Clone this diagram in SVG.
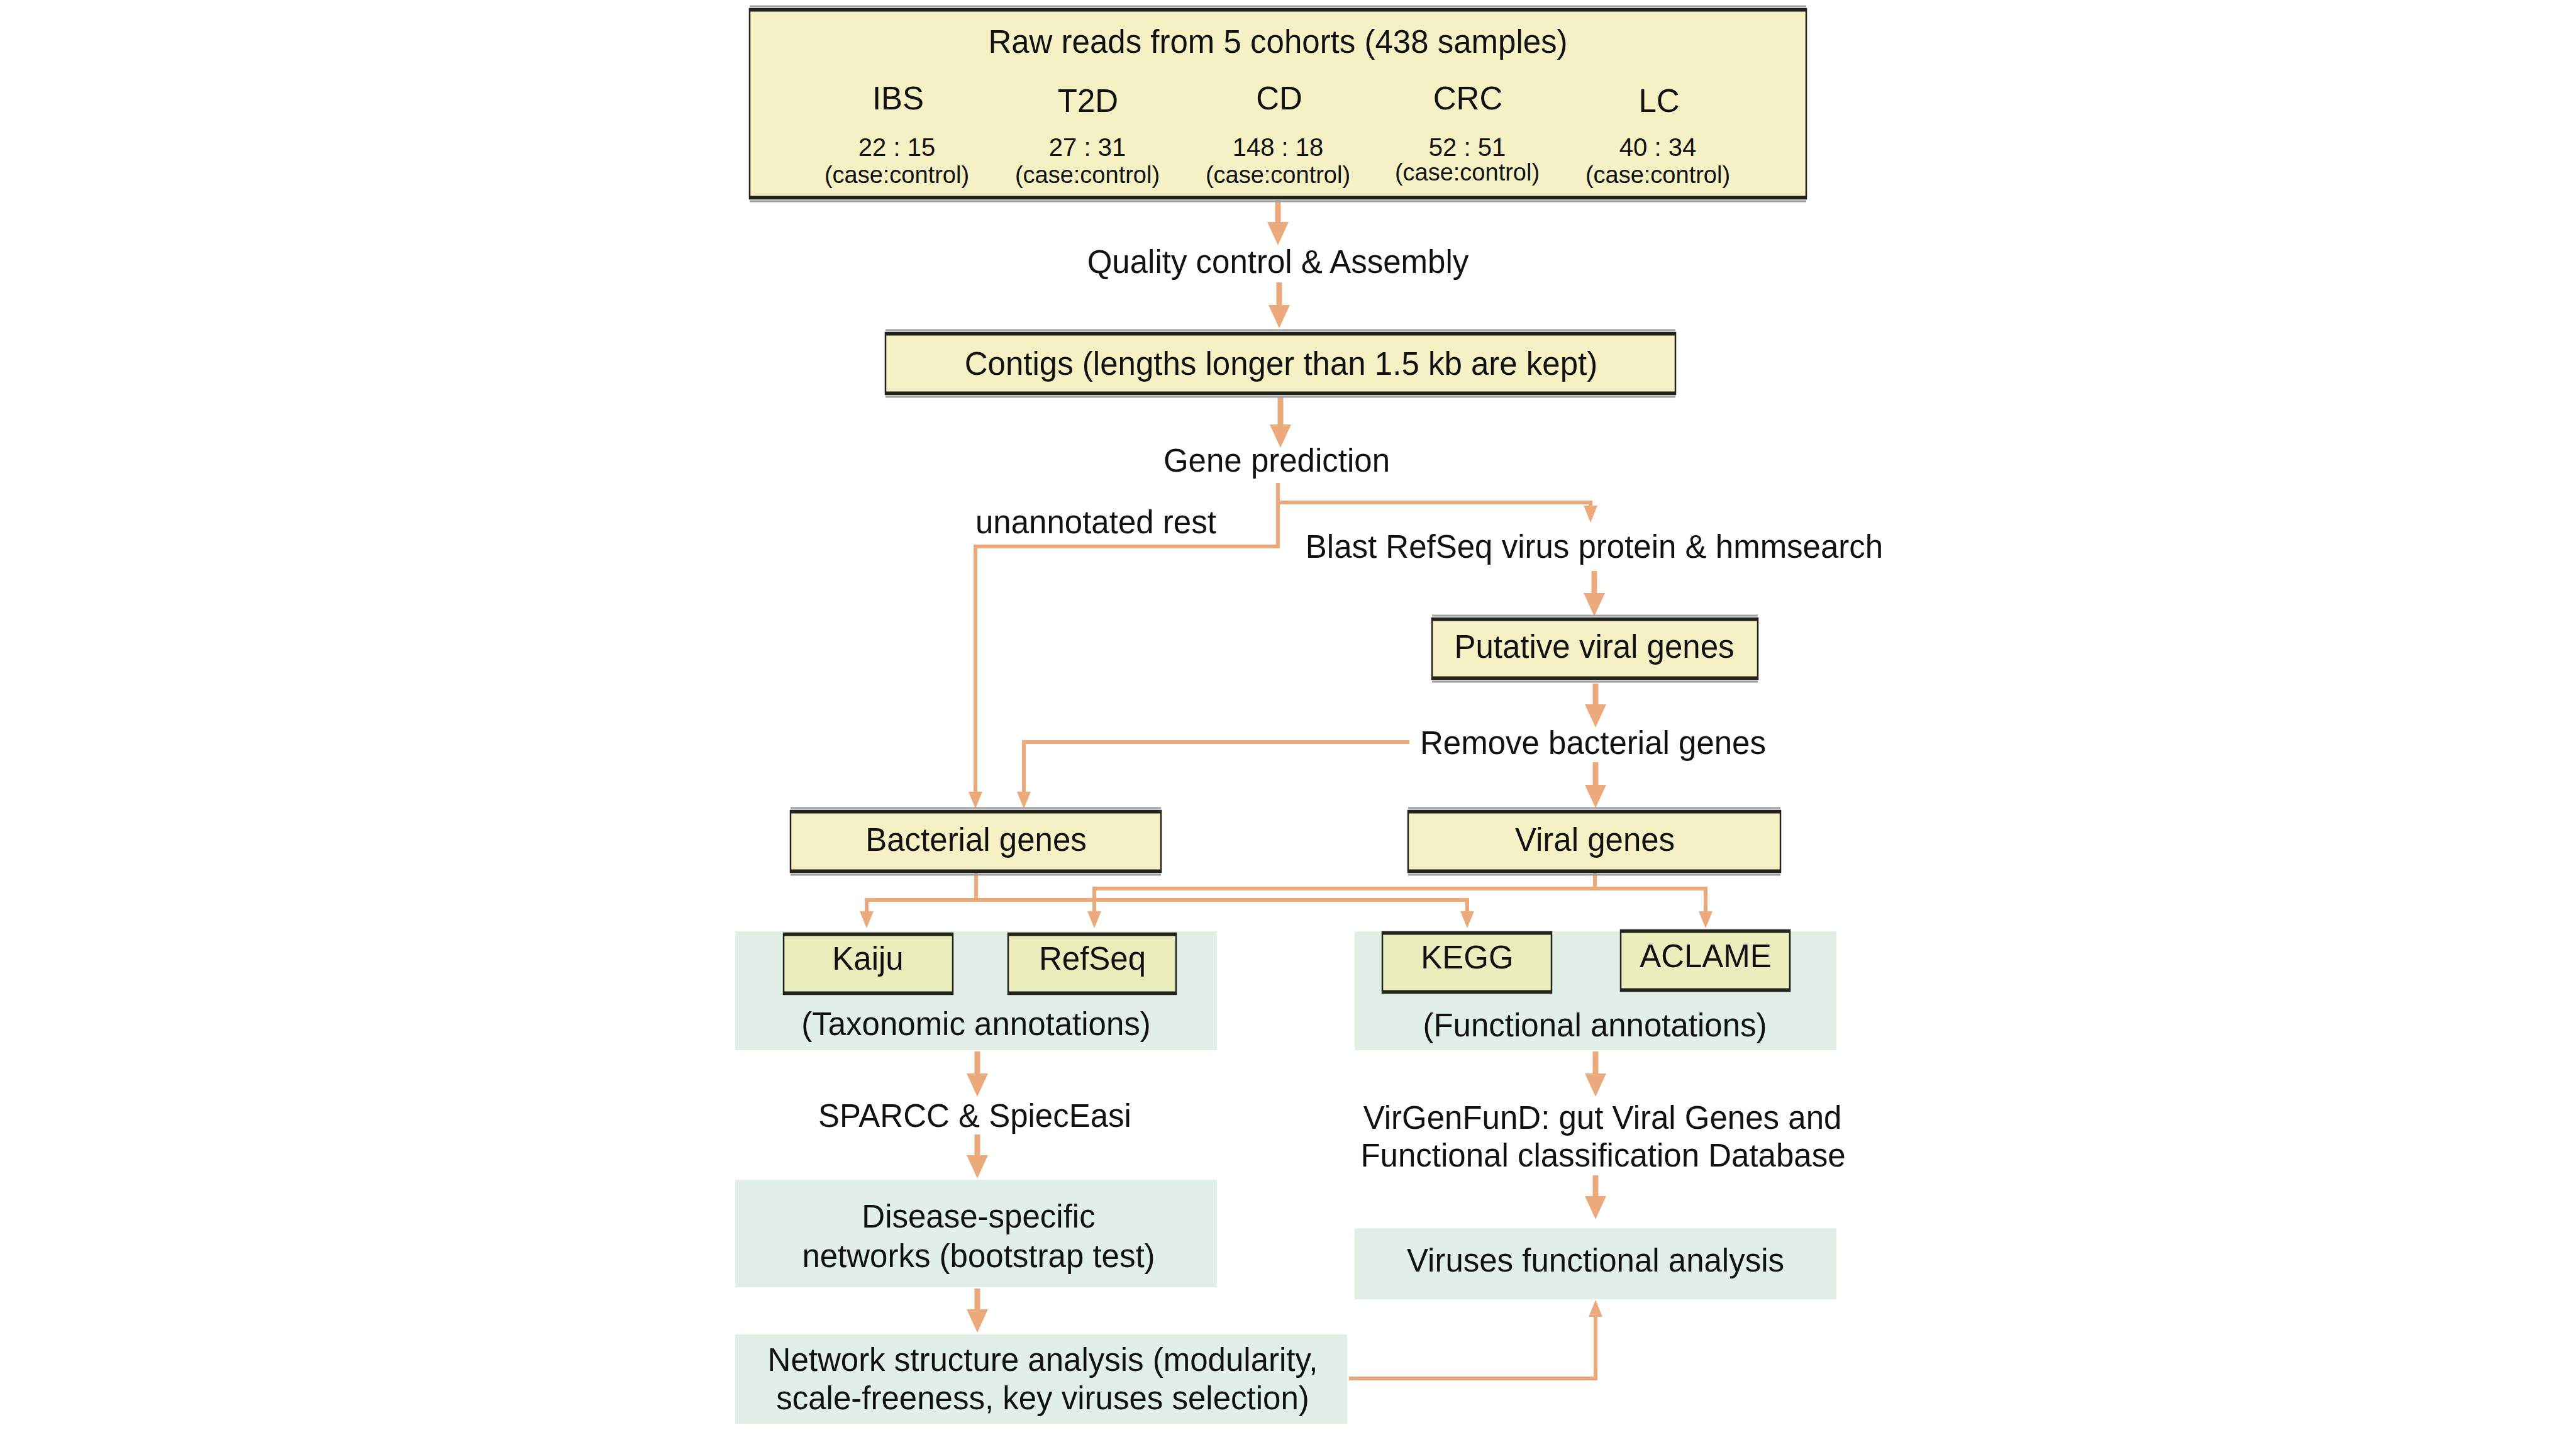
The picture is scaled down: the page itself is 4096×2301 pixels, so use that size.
<svg xmlns="http://www.w3.org/2000/svg" width="4096" height="2301" viewBox="0 0 4096 2301">
<style>
text{font-family:"Liberation Sans",Arial,Helvetica,sans-serif;fill:#111;font-size:51px;text-anchor:middle}
.sm{font-size:40px}
.cc{font-size:38px}
.box{fill:#f6f1c5;stroke:#22221c;stroke-width:2.5}
.box2{fill:#eaedbc;stroke:#22221c;stroke-width:2.5}
.edge{stroke:#22221c;stroke-width:5;fill:none}
.shadow{stroke:#a0a0a0;stroke-width:3;fill:none}
.panel{fill:#e1efe6}
.main{stroke:#eca97b;stroke-width:9;fill:none}
.thin{stroke:#eca97b;stroke-width:6;fill:none}
</style>
<defs>
<marker id="big" markerUnits="userSpaceOnUse" markerWidth="40" markerHeight="40" refX="0" refY="17" orient="auto" overflow="visible"><path d="M0,0 L37,17 L0,34 Z" fill="#eca97b"/></marker>
<marker id="small" markerUnits="userSpaceOnUse" markerWidth="30" markerHeight="30" refX="0" refY="11" orient="auto" overflow="visible"><path d="M0,0 L27,11 L0,22 Z" fill="#eca97b"/></marker>
</defs>
<rect width="4096" height="2301" fill="#fff"/>

<g id="connectors">
<path class="main" d="M2032,318 V353" marker-end="url(#big)"/>
<path class="main" d="M2034,449 V485" marker-end="url(#big)"/>
<path class="main" d="M2036,630 V675" marker-end="url(#big)"/>
<path class="main" d="M2535,908 V943" marker-end="url(#big)"/>
<path class="main" d="M2537,1087 V1120" marker-end="url(#big)"/>
<path class="main" d="M2537,1212 V1248" marker-end="url(#big)"/>
<path class="main" d="M1554,1672 V1707" marker-end="url(#big)"/>
<path class="main" d="M2537,1672 V1707" marker-end="url(#big)"/>
<path class="main" d="M1554,1804 V1837" marker-end="url(#big)"/>
<path class="main" d="M2537,1869 V1902" marker-end="url(#big)"/>
<path class="main" d="M1554,2049 V2082" marker-end="url(#big)"/>
<path class="thin" d="M2032,768 V869 H1551 V1259" marker-end="url(#small)"/>
<path class="thin" d="M2032,799 H2529 V804" marker-end="url(#small)"/>
<path class="thin" d="M2241,1180 H1628 V1259" marker-end="url(#small)"/>
<path class="thin" d="M1552,1388 V1431"/>
<path class="thin" d="M1378,1449 V1431 H2333 V1449" />
<path class="thin" d="M1378,1440 V1449" marker-end="url(#small)"/>
<path class="thin" d="M2333,1440 V1449" marker-end="url(#small)"/>
<path class="thin" d="M2536,1388 V1413"/>
<path class="thin" d="M1740,1449 V1413 H2712 V1449"/>
<path class="thin" d="M1740,1440 V1449" marker-end="url(#small)"/>
<path class="thin" d="M2712,1440 V1449" marker-end="url(#small)"/>
<path class="thin" d="M2145,2192 H2537 V2094" marker-end="url(#small)"/>
</g>

<g id="raw-reads">
<rect class="box" x="1192" y="14" width="1680" height="302"/>
<path class="shadow" d="M1192,10 H2872 M1192,320 H2872"/>
<path class="edge" d="M1192,16 H2872 M1192,314 H2872"/>
<text x="2032" y="84">Raw reads from 5 cohorts (438 samples)</text>
<text x="1428" y="174">IBS</text>
<text x="1730" y="178">T2D</text>
<text x="2034" y="174">CD</text>
<text x="2334" y="174">CRC</text>
<text x="2638" y="178">LC</text>
<text class="sm" x="1426" y="248">22 : 15</text>
<text class="sm" x="1729" y="248">27 : 31</text>
<text class="sm" x="2032" y="248">148 : 18</text>
<text class="sm" x="2333" y="248">52 : 51</text>
<text class="sm" x="2636" y="248">40 : 34</text>
<text class="cc" x="1426" y="291">(case:control)</text>
<text class="cc" x="1729" y="291">(case:control)</text>
<text class="cc" x="2032" y="291">(case:control)</text>
<text class="cc" x="2333" y="287">(case:control)</text>
<text class="cc" x="2636" y="291">(case:control)</text>
</g>

<g id="qc-label"><text x="2032" y="434">Quality control &amp; Assembly</text></g>

<g id="contigs">
<rect class="box" x="1408" y="529" width="1256" height="98"/>
<path class="shadow" d="M1408,525 H2664 M1408,631 H2664"/>
<path class="edge" d="M1408,531 H2664 M1408,625 H2664"/>
<text x="2037" y="596">Contigs (lengths longer than 1.5 kb are kept)</text>
</g>

<g id="gene-prediction"><text x="2030" y="750">Gene prediction</text></g>
<g id="unannotated"><text x="1551" y="848" style="text-anchor:start">unannotated rest</text></g>
<g id="blast"><text x="2535" y="887">Blast RefSeq virus protein &amp; hmmsearch</text></g>

<g id="putative">
<rect class="box" x="2277" y="983" width="518" height="97"/>
<path class="shadow" d="M2277,979 H2795 M2277,1084 H2795"/>
<path class="edge" d="M2277,985 H2795 M2277,1078 H2795"/>
<text x="2535" y="1046">Putative viral genes</text>
</g>

<g id="remove"><text x="2533" y="1199">Remove bacterial genes</text></g>

<g id="bacterial">
<rect class="box" x="1257" y="1289" width="589" height="98"/>
<path class="shadow" d="M1257,1285 H1846 M1257,1391 H1846"/>
<path class="edge" d="M1257,1291 H1846 M1257,1385 H1846"/>
<text x="1552" y="1353">Bacterial genes</text>
</g>

<g id="viral">
<rect class="box" x="2239" y="1289" width="592" height="98"/>
<path class="shadow" d="M2239,1285 H2831 M2239,1391 H2831"/>
<path class="edge" d="M2239,1291 H2831 M2239,1385 H2831"/>
<text x="2536" y="1353">Viral genes</text>
</g>

<g id="taxonomic">
<rect class="panel" x="1169" y="1481" width="766" height="189"/>
<text x="1552" y="1646">(Taxonomic annotations)</text>
</g>
<g id="kaiju">
<rect class="box2" x="1246" y="1484" width="269" height="97"/>
<path class="edge" d="M1246,1486 H1515 M1246,1579 H1515"/>
<text x="1380" y="1542">Kaiju</text>
</g>
<g id="refseq">
<rect class="box2" x="1603" y="1484" width="267" height="97"/>
<path class="edge" d="M1603,1486 H1870 M1603,1579 H1870"/>
<text x="1737" y="1542">RefSeq</text>
</g>

<g id="functional">
<rect class="panel" x="2154" y="1481" width="766" height="189"/>
<text x="2536" y="1648">(Functional annotations)</text>
</g>
<g id="kegg">
<rect class="box2" x="2198" y="1482" width="269" height="97"/>
<path class="edge" d="M2198,1484 H2467 M2198,1577 H2467"/>
<text x="2333" y="1540">KEGG</text>
</g>
<g id="aclame">
<rect class="box2" x="2577" y="1479" width="269" height="97"/>
<path class="edge" d="M2577,1481 H2846 M2577,1574 H2846"/>
<text x="2712" y="1538">ACLAME</text>
</g>

<g id="sparcc"><text x="1550" y="1792">SPARCC &amp; SpiecEasi</text></g>
<g id="virgenfund">
<text x="2548" y="1795">VirGenFunD: gut Viral Genes and</text>
<text x="2549" y="1855">Functional classification Database</text>
</g>

<g id="disease-networks">
<rect class="panel" x="1169" y="1876" width="766" height="171"/>
<text x="1556" y="1952">Disease-specific</text>
<text x="1556" y="2015">networks (bootstrap test)</text>
</g>

<g id="viruses-functional">
<rect class="panel" x="2154" y="1953" width="766" height="113"/>
<text x="2537" y="2022">Viruses functional analysis</text>
</g>

<g id="network-structure">
<rect class="panel" x="1169" y="2122" width="973" height="142"/>
<text x="1658" y="2180">Network structure analysis (modularity,</text>
<text x="1658" y="2241">scale-freeness, key viruses selection)</text>
</g>
</svg>
